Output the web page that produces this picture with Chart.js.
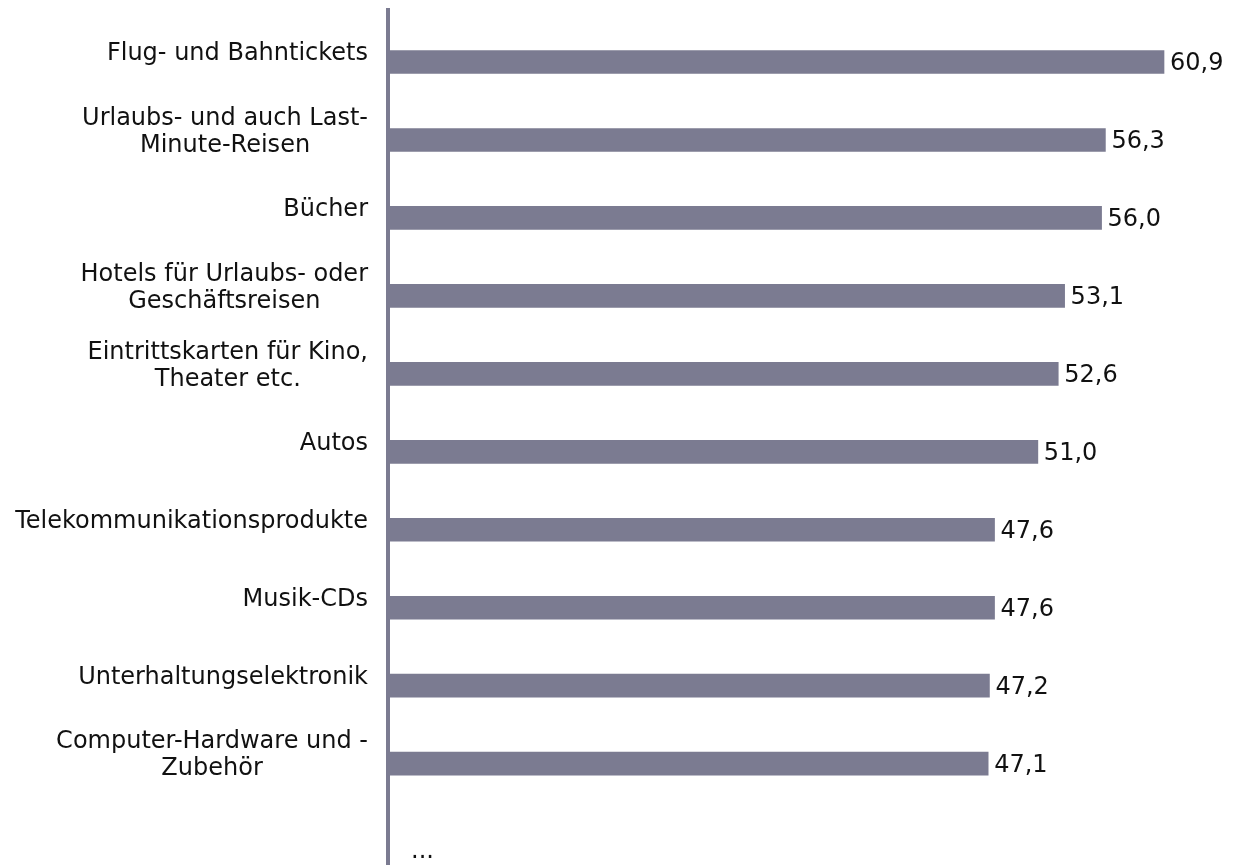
<!DOCTYPE html>
<html>
<head>
<meta charset="utf-8">
<script src="https://cdn.jsdelivr.net/npm/chart.js@4/dist/chart.umd.min.js"></script>
<style>
  html, body { margin: 0; padding: 0; background: #fff; }
  #wrap { width: 1235px; height: 865px; position: relative; }
</style>
</head>
<body>
<div id="wrap"><canvas id="chart"></canvas></div>
<script>
// categories, top to bottom (line breaks as in the original)
const categories = [
  "Flug- und Bahntickets",
  ["Urlaubs- und auch Last-", "Minute-Reisen"],
  "Bücher",
  ["Hotels für Urlaubs- oder", "Geschäftsreisen"],
  ["Eintrittskarten für Kino,", "Theater etc."],
  "Autos",
  "Telekommunikationsprodukte",
  "Musik-CDs",
  "Unterhaltungselektronik",
  ["Computer-Hardware und -", "Zubehör"]
]
const values = [60.9, 56.3, 56.0, 53.1, 52.6, 51.0, 47.6, 47.6, 47.2, 47.1]
// list continues below the visible part
const moreLabel = "..."

const barColor = "#7b7b91"
const textColor = "#111111"
const fontFamily = "'DejaVu Sans', Verdana, sans-serif"
const fontSize = 24
const lineHeight = 27

// category labels: each label block right-aligned to the axis, its lines centred
const categoryLabels = {
  id: "categoryLabels",
  afterDraw(chart) {
    const { ctx } = chart
    const yScale = chart.scales.y
    const right = chart.chartArea.left - 20
    ctx.save()
    ctx.font = fontSize + "px " + fontFamily
    ctx.fillStyle = textColor
    ctx.textAlign = "center"
    ctx.textBaseline = "middle"
    categories.forEach((cat, i) => {
      const lines = Array.isArray(cat) ? cat : [cat]
      const widest = Math.max(...lines.map((l) => ctx.measureText(l).width))
      const cx = right - widest / 2
      const cy = yScale.getPixelForValue(i) - 8
      const top = cy - ((lines.length - 1) * lineHeight) / 2
      lines.forEach((l, k) => ctx.fillText(l, cx, top + k * lineHeight))
    })
    ctx.restore()
  }
}

// value labels after each bar, German decimal comma
const valueLabels = {
  id: "valueLabels",
  afterDatasetsDraw(chart) {
    const { ctx } = chart
    const meta = chart.getDatasetMeta(0)
    ctx.save()
    ctx.font = fontSize + "px " + fontFamily
    ctx.fillStyle = textColor
    ctx.textAlign = "left"
    ctx.textBaseline = "middle"
    meta.data.forEach((bar, i) => {
      ctx.fillText(values[i].toFixed(1).replace(".", ","), bar.x + 6, bar.y + 2)
    })
    // the "..." hint for the next (cut-off) row
    ctx.textBaseline = "alphabetic"
    ctx.fillText(moreLabel, chart.scales.x.getPixelForValue(0) + 23, chart.scales.y.getPixelForValue(values.length) + 16)
    ctx.restore()
  }
}

new Chart(document.getElementById("chart"), {
  type: "bar",
  data: {
    datasets: [
      {
        data: values.map((v, i) => ({ x: v, y: i })),
        backgroundColor: barColor,
        borderWidth: 0,
        barThickness: 23
      }
    ]
  },
  options: {
    indexAxis: "y",
    responsive: true,
    maintainAspectRatio: false,
    animation: false,
    layout: { padding: { top: 10, right: 6, bottom: 0, left: 0 } },
    plugins: { legend: { display: false }, tooltip: { enabled: false } },
    scales: {
      x: {
        type: "linear",
        min: 0,
        max: 66,
        display: false
      },
      y: {
        type: "linear",
        reverse: true,
        offset: false,
        min: -0.667,
        max: 10.3,
        grid: { display: false, drawTicks: false },
        border: { display: true, color: barColor, width: 4 },
        ticks: { display: false },
        afterFit(scale) {
          scale.width = 388
        }
      }
    }
  },
  plugins: [categoryLabels, valueLabels]
})
</script>
</body>
</html>
